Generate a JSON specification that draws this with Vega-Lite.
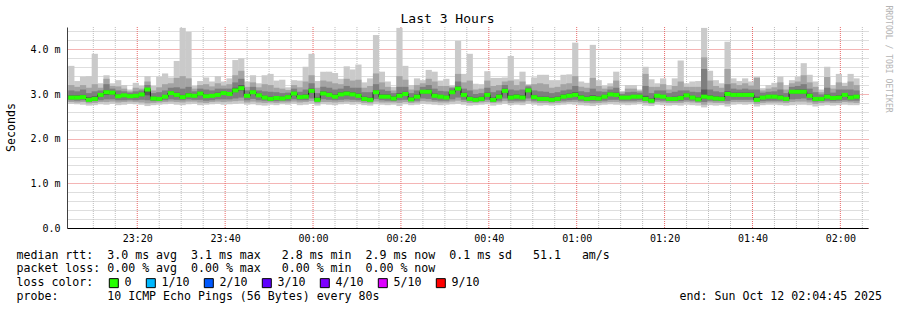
{
"$schema": "https://vega.github.io/schema/vega-lite/v6.json",
"width": 801, "height": 201,
"autosize": {"type": "none"},
"padding": {"left": 67, "top": 27, "right": 29, "bottom": 82},
"background": "white",
"config": {"view": {"stroke": null}, "axis": {"grid": false}},
"title": {"text": "Last 3 Hours", "font": "DejaVu Sans Mono", "fontSize": 13, "fontWeight": "normal", "color": "black", "anchor": "middle", "frame": "group", "dx": -20, "dy": 34, "offset": 3, "baseline": "alphabetic"},
"datasets": {"pings": [
{"t":"2025-10-11T23:05:00","p1":2.78,"p2":2.82,"p3":2.86,"p4":2.89,"p7":2.97,"p8":3.08,"p9":3.2,"p10":3.63,"med":2.92},
{"t":"2025-10-11T23:06:20","p1":2.77,"p2":2.81,"p3":2.85,"p4":2.89,"p7":2.97,"p8":3.06,"p9":3.16,"p10":3.29,"med":2.92},
{"t":"2025-10-11T23:07:40","p1":2.76,"p2":2.82,"p3":2.86,"p4":2.9,"p7":2.98,"p8":3.1,"p9":3.2,"p10":3.39,"med":2.93},
{"t":"2025-10-11T23:09:00","p1":2.74,"p2":2.79,"p3":2.83,"p4":2.85,"p7":2.93,"p8":3.02,"p9":3.14,"p10":3.4,"med":2.87},
{"t":"2025-10-11T23:10:20","p1":2.75,"p2":2.8,"p3":2.84,"p4":2.86,"p7":2.95,"p8":3.06,"p9":3.22,"p10":3.9,"med":2.89},
{"t":"2025-10-11T23:11:40","p1":2.77,"p2":2.82,"p3":2.86,"p4":2.94,"p7":3.02,"p8":3.08,"p9":3.14,"p10":3.24,"med":2.98},
{"t":"2025-10-11T23:13:00","p1":2.76,"p2":2.82,"p3":2.88,"p4":2.98,"p7":3.08,"p8":3.22,"p9":3.34,"p10":3.42,"med":3.04},
{"t":"2025-10-11T23:14:20","p1":2.78,"p2":2.83,"p3":2.88,"p4":2.99,"p7":3.06,"p8":3.12,"p9":3.18,"p10":3.24,"med":3.03},
{"t":"2025-10-11T23:15:40","p1":2.75,"p2":2.81,"p3":2.86,"p4":2.92,"p7":2.99,"p8":3.08,"p9":3.17,"p10":3.31,"med":2.95},
{"t":"2025-10-11T23:17:00","p1":2.76,"p2":2.82,"p3":2.86,"p4":2.93,"p7":3.0,"p8":3.06,"p9":3.12,"p10":3.2,"med":2.97},
{"t":"2025-10-11T23:18:20","p1":2.78,"p2":2.83,"p3":2.87,"p4":2.92,"p7":2.98,"p8":3.03,"p9":3.06,"p10":3.1,"med":2.95},
{"t":"2025-10-11T23:19:40","p1":2.77,"p2":2.82,"p3":2.86,"p4":2.92,"p7":3.0,"p8":3.06,"p9":3.14,"p10":3.25,"med":2.96},
{"t":"2025-10-11T23:21:00","p1":2.76,"p2":2.81,"p3":2.87,"p4":2.95,"p7":3.02,"p8":3.08,"p9":3.12,"p10":3.18,"med":2.99},
{"t":"2025-10-11T23:22:20","p1":2.73,"p2":2.79,"p3":2.86,"p4":2.97,"p7":3.13,"p8":3.2,"p9":3.28,"p10":3.4,"med":3.1},
{"t":"2025-10-11T23:23:40","p1":2.75,"p2":2.8,"p3":2.84,"p4":2.87,"p7":2.94,"p8":3.02,"p9":3.08,"p10":3.18,"med":2.9},
{"t":"2025-10-11T23:25:00","p1":2.76,"p2":2.81,"p3":2.85,"p4":2.87,"p7":2.93,"p8":3.04,"p9":3.15,"p10":3.39,"med":2.89},
{"t":"2025-10-11T23:26:20","p1":2.77,"p2":2.82,"p3":2.86,"p4":2.91,"p7":2.98,"p8":3.08,"p9":3.22,"p10":3.46,"med":2.94},
{"t":"2025-10-11T23:27:40","p1":2.78,"p2":2.83,"p3":2.88,"p4":2.98,"p7":3.06,"p8":3.14,"p9":3.24,"p10":3.37,"med":3.02},
{"t":"2025-10-11T23:29:00","p1":2.76,"p2":2.82,"p3":2.87,"p4":2.94,"p7":3.03,"p8":3.15,"p9":3.36,"p10":3.74,"med":2.98},
{"t":"2025-10-11T23:30:20","p1":2.75,"p2":2.81,"p3":2.86,"p4":2.9,"p7":2.98,"p8":3.12,"p9":3.4,"p10":4.48,"med":2.93},
{"t":"2025-10-11T23:31:40","p1":2.77,"p2":2.83,"p3":2.88,"p4":2.94,"p7":3.02,"p8":3.16,"p9":3.35,"p10":4.39,"med":2.97},
{"t":"2025-10-11T23:33:00","p1":2.78,"p2":2.83,"p3":2.87,"p4":2.93,"p7":3.0,"p8":3.06,"p9":3.12,"p10":3.18,"med":2.96},
{"t":"2025-10-11T23:34:20","p1":2.75,"p2":2.81,"p3":2.87,"p4":2.97,"p7":3.05,"p8":3.12,"p9":3.2,"p10":3.29,"med":3.01},
{"t":"2025-10-11T23:35:40","p1":2.76,"p2":2.8,"p3":2.85,"p4":2.92,"p7":3.0,"p8":3.1,"p9":3.22,"p10":3.37,"med":2.95},
{"t":"2025-10-11T23:37:00","p1":2.77,"p2":2.82,"p3":2.86,"p4":2.93,"p7":3.0,"p8":3.08,"p9":3.17,"p10":3.28,"med":2.96},
{"t":"2025-10-11T23:38:20","p1":2.78,"p2":2.83,"p3":2.88,"p4":2.95,"p7":3.03,"p8":3.12,"p9":3.24,"p10":3.4,"med":2.98},
{"t":"2025-10-11T23:39:40","p1":2.76,"p2":2.82,"p3":2.88,"p4":2.98,"p7":3.06,"p8":3.12,"p9":3.19,"p10":3.28,"med":3.02},
{"t":"2025-10-11T23:41:00","p1":2.77,"p2":2.83,"p3":2.88,"p4":2.97,"p7":3.04,"p8":3.12,"p9":3.22,"p10":3.35,"med":3.0},
{"t":"2025-10-11T23:42:20","p1":2.78,"p2":2.84,"p3":2.9,"p4":3.04,"p7":3.14,"p8":3.26,"p9":3.42,"p10":3.76,"med":3.08},
{"t":"2025-10-11T23:43:40","p1":2.79,"p2":2.85,"p3":2.92,"p4":3.08,"p7":3.2,"p8":3.34,"p9":3.52,"p10":3.8,"med":3.13},
{"t":"2025-10-11T23:45:00","p1":2.76,"p2":2.81,"p3":2.86,"p4":2.93,"p7":3.0,"p8":3.08,"p9":3.16,"p10":3.28,"med":2.96},
{"t":"2025-10-11T23:46:20","p1":2.77,"p2":2.83,"p3":2.89,"p4":3.0,"p7":3.08,"p8":3.16,"p9":3.26,"p10":3.42,"med":3.04},
{"t":"2025-10-11T23:47:40","p1":2.75,"p2":2.81,"p3":2.86,"p4":2.94,"p7":3.01,"p8":3.08,"p9":3.15,"p10":3.24,"med":2.97},
{"t":"2025-10-11T23:49:00","p1":2.74,"p2":2.8,"p3":2.85,"p4":2.89,"p7":2.96,"p8":3.06,"p9":3.22,"p10":3.42,"med":2.92},
{"t":"2025-10-11T23:50:20","p1":2.76,"p2":2.81,"p3":2.84,"p4":2.86,"p7":2.94,"p8":3.05,"p9":3.2,"p10":3.45,"med":2.89},
{"t":"2025-10-11T23:51:40","p1":2.75,"p2":2.8,"p3":2.84,"p4":2.88,"p7":2.95,"p8":3.04,"p9":3.14,"p10":3.3,"med":2.91},
{"t":"2025-10-11T23:53:00","p1":2.77,"p2":2.81,"p3":2.85,"p4":2.87,"p7":2.94,"p8":3.02,"p9":3.12,"p10":3.32,"med":2.9},
{"t":"2025-10-11T23:54:20","p1":2.76,"p2":2.81,"p3":2.85,"p4":2.9,"p7":2.97,"p8":3.03,"p9":3.09,"p10":3.15,"med":2.93},
{"t":"2025-10-11T23:55:40","p1":2.78,"p2":2.83,"p3":2.88,"p4":2.97,"p7":3.05,"p8":3.12,"p9":3.2,"p10":3.31,"med":3.01},
{"t":"2025-10-11T23:57:00","p1":2.75,"p2":2.81,"p3":2.86,"p4":2.9,"p7":2.97,"p8":3.05,"p9":3.15,"p10":3.3,"med":2.93},
{"t":"2025-10-11T23:58:20","p1":2.76,"p2":2.82,"p3":2.86,"p4":2.91,"p7":2.99,"p8":3.1,"p9":3.28,"p10":3.61,"med":2.94},
{"t":"2025-10-11T23:59:40","p1":2.78,"p2":2.84,"p3":2.9,"p4":3.03,"p7":3.12,"p8":3.24,"p9":3.42,"p10":3.9,"med":3.07},
{"t":"2025-10-12T00:01:00","p1":2.74,"p2":2.79,"p3":2.83,"p4":2.85,"p7":2.92,"p8":3.02,"p9":3.14,"p10":3.29,"med":2.87},
{"t":"2025-10-12T00:02:20","p1":2.77,"p2":2.82,"p3":2.88,"p4":2.97,"p7":3.06,"p8":3.16,"p9":3.3,"p10":3.5,"med":3.01},
{"t":"2025-10-12T00:03:40","p1":2.76,"p2":2.82,"p3":2.87,"p4":2.95,"p7":3.03,"p8":3.14,"p9":3.28,"p10":3.5,"med":2.98},
{"t":"2025-10-12T00:05:00","p1":2.75,"p2":2.81,"p3":2.86,"p4":2.91,"p7":2.99,"p8":3.1,"p9":3.24,"p10":3.47,"med":2.94},
{"t":"2025-10-12T00:06:20","p1":2.77,"p2":2.82,"p3":2.87,"p4":2.96,"p7":3.04,"p8":3.12,"p9":3.22,"p10":3.34,"med":2.99},
{"t":"2025-10-12T00:07:40","p1":2.78,"p2":2.83,"p3":2.88,"p4":2.97,"p7":3.06,"p8":3.18,"p9":3.34,"p10":3.62,"med":3.01},
{"t":"2025-10-12T00:09:00","p1":2.76,"p2":2.82,"p3":2.87,"p4":2.96,"p7":3.04,"p8":3.14,"p9":3.3,"p10":3.55,"med":2.99},
{"t":"2025-10-12T00:10:20","p1":2.77,"p2":2.82,"p3":2.86,"p4":2.93,"p7":3.01,"p8":3.14,"p9":3.32,"p10":3.66,"med":2.96},
{"t":"2025-10-12T00:11:40","p1":2.75,"p2":2.8,"p3":2.84,"p4":2.86,"p7":2.94,"p8":3.04,"p9":3.14,"p10":3.26,"med":2.89},
{"t":"2025-10-12T00:13:00","p1":2.74,"p2":2.79,"p3":2.83,"p4":2.85,"p7":2.92,"p8":3.04,"p9":3.18,"p10":3.35,"med":2.87},
{"t":"2025-10-12T00:14:20","p1":2.77,"p2":2.83,"p3":2.89,"p4":3.0,"p7":3.09,"p8":3.22,"p9":3.46,"p10":4.32,"med":3.04},
{"t":"2025-10-12T00:15:40","p1":2.76,"p2":2.81,"p3":2.86,"p4":2.91,"p7":2.99,"p8":3.1,"p9":3.26,"p10":3.5,"med":2.94},
{"t":"2025-10-12T00:17:00","p1":2.75,"p2":2.81,"p3":2.85,"p4":2.91,"p7":2.99,"p8":3.07,"p9":3.16,"p10":3.28,"med":2.94},
{"t":"2025-10-12T00:18:20","p1":2.76,"p2":2.81,"p3":2.84,"p4":2.87,"p7":2.95,"p8":3.02,"p9":3.08,"p10":3.16,"med":2.9},
{"t":"2025-10-12T00:19:40","p1":2.73,"p2":2.8,"p3":2.86,"p4":2.93,"p7":3.02,"p8":3.16,"p9":3.4,"p10":4.48,"med":2.96},
{"t":"2025-10-12T00:21:00","p1":2.77,"p2":2.82,"p3":2.87,"p4":2.96,"p7":3.05,"p8":3.16,"p9":3.32,"p10":3.63,"med":3.0},
{"t":"2025-10-12T00:22:20","p1":2.75,"p2":2.8,"p3":2.84,"p4":2.85,"p7":2.93,"p8":3.02,"p9":3.1,"p10":3.2,"med":2.88},
{"t":"2025-10-12T00:23:40","p1":2.76,"p2":2.81,"p3":2.85,"p4":2.91,"p7":2.99,"p8":3.08,"p9":3.2,"p10":3.35,"med":2.94},
{"t":"2025-10-12T00:25:00","p1":2.78,"p2":2.84,"p3":2.9,"p4":3.01,"p7":3.09,"p8":3.16,"p9":3.24,"p10":3.31,"med":3.05},
{"t":"2025-10-12T00:26:20","p1":2.77,"p2":2.83,"p3":2.89,"p4":3.01,"p7":3.1,"p8":3.2,"p9":3.34,"p10":3.54,"med":3.05},
{"t":"2025-10-12T00:27:40","p1":2.76,"p2":2.82,"p3":2.86,"p4":2.93,"p7":3.01,"p8":3.12,"p9":3.28,"p10":3.5,"med":2.96},
{"t":"2025-10-12T00:29:00","p1":2.75,"p2":2.81,"p3":2.85,"p4":2.91,"p7":2.98,"p8":3.07,"p9":3.18,"p10":3.3,"med":2.94},
{"t":"2025-10-12T00:30:20","p1":2.76,"p2":2.81,"p3":2.85,"p4":2.89,"p7":2.96,"p8":3.06,"p9":3.18,"p10":3.34,"med":2.92},
{"t":"2025-10-12T00:31:40","p1":2.77,"p2":2.83,"p3":2.88,"p4":3.0,"p7":3.08,"p8":3.13,"p9":3.16,"p10":3.19,"med":3.04},
{"t":"2025-10-12T00:33:00","p1":2.78,"p2":2.85,"p3":2.92,"p4":3.08,"p7":3.17,"p8":3.28,"p9":3.45,"p10":4.19,"med":3.12},
{"t":"2025-10-12T00:34:20","p1":2.76,"p2":2.82,"p3":2.87,"p4":2.95,"p7":3.03,"p8":3.12,"p9":3.26,"p10":3.45,"med":2.98},
{"t":"2025-10-12T00:35:40","p1":2.74,"p2":2.8,"p3":2.84,"p4":2.86,"p7":2.94,"p8":3.08,"p9":3.3,"p10":3.9,"med":2.89},
{"t":"2025-10-12T00:37:00","p1":2.75,"p2":2.8,"p3":2.83,"p4":2.85,"p7":2.92,"p8":3.0,"p9":3.1,"p10":3.23,"med":2.87},
{"t":"2025-10-12T00:38:20","p1":2.76,"p2":2.81,"p3":2.84,"p4":2.86,"p7":2.94,"p8":3.02,"p9":3.12,"p10":3.22,"med":2.89},
{"t":"2025-10-12T00:39:40","p1":2.77,"p2":2.82,"p3":2.87,"p4":2.95,"p7":3.03,"p8":3.14,"p9":3.3,"p10":3.51,"med":2.98},
{"t":"2025-10-12T00:41:00","p1":2.74,"p2":2.8,"p3":2.83,"p4":2.84,"p7":2.92,"p8":3.04,"p9":3.18,"p10":3.36,"med":2.87},
{"t":"2025-10-12T00:42:20","p1":2.76,"p2":2.81,"p3":2.85,"p4":2.91,"p7":2.99,"p8":3.08,"p9":3.2,"p10":3.36,"med":2.94},
{"t":"2025-10-12T00:43:40","p1":2.78,"p2":2.84,"p3":2.9,"p4":3.03,"p7":3.12,"p8":3.2,"p9":3.28,"p10":3.37,"med":3.07},
{"t":"2025-10-12T00:45:00","p1":2.75,"p2":2.8,"p3":2.85,"p4":2.89,"p7":2.97,"p8":3.1,"p9":3.3,"p10":3.85,"med":2.92},
{"t":"2025-10-12T00:46:20","p1":2.76,"p2":2.81,"p3":2.85,"p4":2.91,"p7":2.99,"p8":3.08,"p9":3.2,"p10":3.33,"med":2.94},
{"t":"2025-10-12T00:47:40","p1":2.75,"p2":2.81,"p3":2.85,"p4":2.89,"p7":2.97,"p8":3.1,"p9":3.28,"p10":3.5,"med":2.92},
{"t":"2025-10-12T00:49:00","p1":2.78,"p2":2.84,"p3":2.9,"p4":3.04,"p7":3.12,"p8":3.17,"p9":3.2,"p10":3.22,"med":3.08},
{"t":"2025-10-12T00:50:20","p1":2.76,"p2":2.81,"p3":2.85,"p4":2.9,"p7":2.98,"p8":3.08,"p9":3.22,"p10":3.37,"med":2.93},
{"t":"2025-10-12T00:51:40","p1":2.74,"p2":2.8,"p3":2.84,"p4":2.86,"p7":2.94,"p8":3.06,"p9":3.24,"p10":3.43,"med":2.89},
{"t":"2025-10-12T00:53:00","p1":2.75,"p2":2.8,"p3":2.84,"p4":2.86,"p7":2.94,"p8":3.05,"p9":3.22,"p10":3.43,"med":2.89},
{"t":"2025-10-12T00:54:20","p1":2.74,"p2":2.79,"p3":2.83,"p4":2.84,"p7":2.92,"p8":3.02,"p9":3.14,"p10":3.31,"med":2.87},
{"t":"2025-10-12T00:55:40","p1":2.75,"p2":2.8,"p3":2.84,"p4":2.86,"p7":2.94,"p8":3.04,"p9":3.16,"p10":3.31,"med":2.89},
{"t":"2025-10-12T00:57:00","p1":2.76,"p2":2.81,"p3":2.85,"p4":2.91,"p7":2.99,"p8":3.08,"p9":3.22,"p10":3.43,"med":2.94},
{"t":"2025-10-12T00:58:20","p1":2.77,"p2":2.82,"p3":2.86,"p4":2.93,"p7":3.01,"p8":3.1,"p9":3.24,"p10":3.44,"med":2.96},
{"t":"2025-10-12T00:59:40","p1":2.76,"p2":2.82,"p3":2.87,"p4":2.95,"p7":3.04,"p8":3.18,"p9":3.4,"p10":4.15,"med":2.98},
{"t":"2025-10-12T01:01:00","p1":2.75,"p2":2.81,"p3":2.85,"p4":2.89,"p7":2.97,"p8":3.06,"p9":3.16,"p10":3.28,"med":2.92},
{"t":"2025-10-12T01:02:20","p1":2.74,"p2":2.8,"p3":2.84,"p4":2.86,"p7":2.94,"p8":3.04,"p9":3.14,"p10":3.25,"med":2.89},
{"t":"2025-10-12T01:03:40","p1":2.73,"p2":2.79,"p3":2.84,"p4":2.88,"p7":2.97,"p8":3.12,"p9":3.36,"p10":4.1,"med":2.91},
{"t":"2025-10-12T01:05:00","p1":2.75,"p2":2.8,"p3":2.84,"p4":2.87,"p7":2.95,"p8":3.06,"p9":3.18,"p10":3.31,"med":2.9},
{"t":"2025-10-12T01:06:20","p1":2.76,"p2":2.81,"p3":2.85,"p4":2.91,"p7":2.98,"p8":3.05,"p9":3.12,"p10":3.19,"med":2.94},
{"t":"2025-10-12T01:07:40","p1":2.77,"p2":2.82,"p3":2.87,"p4":2.96,"p7":3.03,"p8":3.1,"p9":3.17,"p10":3.24,"med":2.99},
{"t":"2025-10-12T01:09:00","p1":2.76,"p2":2.82,"p3":2.87,"p4":2.95,"p7":3.03,"p8":3.14,"p9":3.3,"p10":3.5,"med":2.98},
{"t":"2025-10-12T01:10:20","p1":2.76,"p2":2.81,"p3":2.85,"p4":2.89,"p7":2.96,"p8":3.0,"p9":3.04,"p10":3.07,"med":2.92},
{"t":"2025-10-12T01:11:40","p1":2.75,"p2":2.81,"p3":2.85,"p4":2.89,"p7":2.96,"p8":3.04,"p9":3.12,"p10":3.2,"med":2.92},
{"t":"2025-10-12T01:13:00","p1":2.76,"p2":2.81,"p3":2.85,"p4":2.91,"p7":2.98,"p8":3.05,"p9":3.12,"p10":3.2,"med":2.94},
{"t":"2025-10-12T01:14:20","p1":2.77,"p2":2.82,"p3":2.86,"p4":2.91,"p7":2.98,"p8":3.03,"p9":3.07,"p10":3.1,"med":2.94},
{"t":"2025-10-12T01:15:40","p1":2.74,"p2":2.8,"p3":2.84,"p4":2.86,"p7":2.96,"p8":3.18,"p9":3.45,"p10":3.61,"med":2.89},
{"t":"2025-10-12T01:17:00","p1":2.73,"p2":2.78,"p3":2.81,"p4":2.82,"p7":2.9,"p8":3.02,"p9":3.16,"p10":3.33,"med":2.85},
{"t":"2025-10-12T01:18:20","p1":2.76,"p2":2.82,"p3":2.86,"p4":2.93,"p7":3.0,"p8":3.08,"p9":3.16,"p10":3.24,"med":2.96},
{"t":"2025-10-12T01:19:40","p1":2.75,"p2":2.81,"p3":2.85,"p4":2.91,"p7":2.98,"p8":3.08,"p9":3.22,"p10":3.35,"med":2.94},
{"t":"2025-10-12T01:21:00","p1":2.74,"p2":2.8,"p3":2.84,"p4":2.86,"p7":2.93,"p8":3.02,"p9":3.1,"p10":3.2,"med":2.89},
{"t":"2025-10-12T01:22:20","p1":2.75,"p2":2.8,"p3":2.84,"p4":2.86,"p7":2.94,"p8":3.05,"p9":3.18,"p10":3.35,"med":2.89},
{"t":"2025-10-12T01:23:40","p1":2.74,"p2":2.8,"p3":2.84,"p4":2.88,"p7":2.96,"p8":3.08,"p9":3.28,"p10":3.75,"med":2.91},
{"t":"2025-10-12T01:25:00","p1":2.76,"p2":2.82,"p3":2.86,"p4":2.94,"p7":3.01,"p8":3.08,"p9":3.16,"p10":3.24,"med":2.97},
{"t":"2025-10-12T01:26:20","p1":2.75,"p2":2.81,"p3":2.85,"p4":2.89,"p7":2.96,"p8":3.05,"p9":3.16,"p10":3.28,"med":2.92},
{"t":"2025-10-12T01:27:40","p1":2.74,"p2":2.8,"p3":2.83,"p4":2.85,"p7":2.93,"p8":3.04,"p9":3.16,"p10":3.29,"med":2.88},
{"t":"2025-10-12T01:29:00","p1":2.7,"p2":2.76,"p3":2.82,"p4":2.9,"p7":3.1,"p8":3.56,"p9":3.82,"p10":4.48,"med":2.94},
{"t":"2025-10-12T01:30:20","p1":2.75,"p2":2.81,"p3":2.85,"p4":2.89,"p7":2.97,"p8":3.1,"p9":3.3,"p10":3.52,"med":2.92},
{"t":"2025-10-12T01:31:40","p1":2.74,"p2":2.8,"p3":2.84,"p4":2.87,"p7":2.95,"p8":3.06,"p9":3.18,"p10":3.31,"med":2.9},
{"t":"2025-10-12T01:33:00","p1":2.75,"p2":2.8,"p3":2.84,"p4":2.86,"p7":2.94,"p8":3.04,"p9":3.14,"p10":3.24,"med":2.89},
{"t":"2025-10-12T01:34:20","p1":2.72,"p2":2.78,"p3":2.84,"p4":2.96,"p7":3.06,"p8":3.22,"p9":3.56,"p10":4.17,"med":3.0},
{"t":"2025-10-12T01:35:40","p1":2.76,"p2":2.82,"p3":2.87,"p4":2.95,"p7":3.03,"p8":3.12,"p9":3.24,"p10":3.35,"med":2.98},
{"t":"2025-10-12T01:37:00","p1":2.77,"p2":2.82,"p3":2.87,"p4":2.95,"p7":3.03,"p8":3.1,"p9":3.2,"p10":3.29,"med":2.98},
{"t":"2025-10-12T01:38:20","p1":2.76,"p2":2.82,"p3":2.87,"p4":2.95,"p7":3.03,"p8":3.12,"p9":3.24,"p10":3.35,"med":2.98},
{"t":"2025-10-12T01:39:40","p1":2.77,"p2":2.82,"p3":2.87,"p4":2.95,"p7":3.03,"p8":3.1,"p9":3.19,"p10":3.28,"med":2.98},
{"t":"2025-10-12T01:41:00","p1":2.72,"p2":2.78,"p3":2.83,"p4":2.85,"p7":2.94,"p8":3.1,"p9":3.36,"p10":3.39,"med":2.87},
{"t":"2025-10-12T01:42:20","p1":2.75,"p2":2.8,"p3":2.84,"p4":2.89,"p7":2.96,"p8":3.03,"p9":3.08,"p10":3.13,"med":2.92},
{"t":"2025-10-12T01:43:40","p1":2.76,"p2":2.81,"p3":2.85,"p4":2.91,"p7":2.98,"p8":3.05,"p9":3.12,"p10":3.2,"med":2.94},
{"t":"2025-10-12T01:45:00","p1":2.76,"p2":2.81,"p3":2.85,"p4":2.91,"p7":2.98,"p8":3.06,"p9":3.15,"p10":3.25,"med":2.94},
{"t":"2025-10-12T01:46:20","p1":2.75,"p2":2.81,"p3":2.85,"p4":2.89,"p7":2.97,"p8":3.1,"p9":3.26,"p10":3.39,"med":2.92},
{"t":"2025-10-12T01:47:40","p1":2.74,"p2":2.8,"p3":2.84,"p4":2.86,"p7":2.93,"p8":3.02,"p9":3.1,"p10":3.2,"med":2.89},
{"t":"2025-10-12T01:49:00","p1":2.75,"p2":2.82,"p3":2.88,"p4":3.01,"p7":3.09,"p8":3.16,"p9":3.24,"p10":3.31,"med":3.05},
{"t":"2025-10-12T01:50:20","p1":2.76,"p2":2.83,"p3":2.89,"p4":3.01,"p7":3.1,"p8":3.18,"p9":3.28,"p10":3.39,"med":3.05},
{"t":"2025-10-12T01:51:40","p1":2.76,"p2":2.83,"p3":2.9,"p4":3.01,"p7":3.1,"p8":3.22,"p9":3.42,"p10":3.69,"med":3.05},
{"t":"2025-10-12T01:53:00","p1":2.75,"p2":2.81,"p3":2.86,"p4":2.93,"p7":3.01,"p8":3.12,"p9":3.26,"p10":3.43,"med":2.96},
{"t":"2025-10-12T01:54:20","p1":2.72,"p2":2.78,"p3":2.83,"p4":2.86,"p7":2.93,"p8":3.04,"p9":3.16,"p10":3.28,"med":2.89},
{"t":"2025-10-12T01:55:40","p1":2.74,"p2":2.8,"p3":2.84,"p4":2.86,"p7":2.93,"p8":2.99,"p9":3.04,"p10":3.1,"med":2.89},
{"t":"2025-10-12T01:57:00","p1":2.75,"p2":2.81,"p3":2.85,"p4":2.91,"p7":2.99,"p8":3.14,"p9":3.38,"p10":3.61,"med":2.94},
{"t":"2025-10-12T01:58:20","p1":2.74,"p2":2.8,"p3":2.84,"p4":2.88,"p7":2.95,"p8":3.03,"p9":3.12,"p10":3.2,"med":2.91},
{"t":"2025-10-12T01:59:40","p1":2.75,"p2":2.8,"p3":2.85,"p4":2.89,"p7":2.97,"p8":3.1,"p9":3.26,"p10":3.45,"med":2.92},
{"t":"2025-10-12T02:01:00","p1":2.76,"p2":2.82,"p3":2.86,"p4":2.95,"p7":3.02,"p8":3.1,"p9":3.18,"p10":3.25,"med":2.98},
{"t":"2025-10-12T02:02:20","p1":2.75,"p2":2.81,"p3":2.85,"p4":2.89,"p7":2.97,"p8":3.1,"p9":3.28,"p10":3.45,"med":2.92},
{"t":"2025-10-12T02:03:40","p1":2.75,"p2":2.8,"p3":2.85,"p4":2.91,"p7":2.98,"p8":3.08,"p9":3.2,"p10":3.35,"med":2.94}
]},
"data": {"name": "pings"},
"resolve": {"axis": {"y": "independent"}},
"encoding": {
  "x": {"field": "t", "type": "temporal",
   "scale": {"domain": [{"year": 2025, "month": 10, "date": 11, "hours": 23, "minutes": 5, "seconds": 9}, {"year": 2025, "month": 10, "date": 12, "hours": 2, "minutes": 5, "seconds": 9}]},
   "axis": {
    "title": ["median rtt:\u00a0\u00a03.0 ms avg\u00a0\u00a03.1 ms max\u00a0\u00a0\u00a02.8 ms min\u00a0\u00a02.9 ms now\u00a0\u00a00.1 ms sd\u00a0\u00a0\u00a051.1\u00a0\u00a0\u00a0am/s",
              "packet loss: 0.00 % avg\u00a0\u00a00.00 % max\u00a0\u00a0\u00a00.00 % min\u00a0\u00a00.00 % now",
              "loss color:",
              "probe:\u00a0\u00a0\u00a0\u00a0\u00a0\u00a0\u00a010 ICMP Echo Pings (56 Bytes) every 80s\u00a0\u00a0\u00a0\u00a0\u00a0\u00a0\u00a0\u00a0\u00a0\u00a0\u00a0\u00a0\u00a0\u00a0\u00a0\u00a0\u00a0\u00a0\u00a0\u00a0\u00a0\u00a0\u00a0\u00a0\u00a0\u00a0\u00a0\u00a0\u00a0\u00a0\u00a0\u00a0\u00a0\u00a0\u00a0\u00a0\u00a0\u00a0\u00a0\u00a0\u00a0\u00a0\u00a0end: Sun Oct 12 02:04:45 2025"],
    "values": [
      {"year": 2025, "month": 10, "date": 11, "hours": 23, "minutes": 20},
      {"year": 2025, "month": 10, "date": 11, "hours": 23, "minutes": 40},
      {"year": 2025, "month": 10, "date": 12, "hours": 0, "minutes": 0},
      {"year": 2025, "month": 10, "date": 12, "hours": 0, "minutes": 20},
      {"year": 2025, "month": 10, "date": 12, "hours": 0, "minutes": 40},
      {"year": 2025, "month": 10, "date": 12, "hours": 1, "minutes": 0},
      {"year": 2025, "month": 10, "date": 12, "hours": 1, "minutes": 20},
      {"year": 2025, "month": 10, "date": 12, "hours": 1, "minutes": 40},
      {"year": 2025, "month": 10, "date": 12, "hours": 2, "minutes": 0}],
    "format": "%H:%M",
    "labelFont": "DejaVu Sans Mono", "labelFontSize": 10, "labelColor": "black", "labelPadding": 5,
    "labelOverlap": false, "labelFlush": false, "labelBound": false,
    "ticks": false, "domainColor": "black", "domainWidth": 1, "grid": false,
    "titleFont": "DejaVu Sans Mono", "titleFontSize": 11.6, "titleFontWeight": "normal", "titleColor": "black",
    "titleAlign": "left", "titleAnchor": "start", "titleBaseline": "alphabetic",
    "titleX": -51, "titleY": 30, "titleLineHeight": 13.7
   }}
},
"layer": [
{"data": {"values": [{"g":"2025-10-11T23:10:00"},{"g":"2025-10-11T23:15:00"},{"g":"2025-10-11T23:25:00"},{"g":"2025-10-11T23:30:00"},{"g":"2025-10-11T23:35:00"},{"g":"2025-10-11T23:45:00"},{"g":"2025-10-11T23:50:00"},{"g":"2025-10-11T23:55:00"},{"g":"2025-10-12T00:05:00"},{"g":"2025-10-12T00:10:00"},{"g":"2025-10-12T00:15:00"},{"g":"2025-10-12T00:25:00"},{"g":"2025-10-12T00:30:00"},{"g":"2025-10-12T00:35:00"},{"g":"2025-10-12T00:45:00"},{"g":"2025-10-12T00:50:00"},{"g":"2025-10-12T00:55:00"},{"g":"2025-10-12T01:05:00"},{"g":"2025-10-12T01:10:00"},{"g":"2025-10-12T01:15:00"},{"g":"2025-10-12T01:25:00"},{"g":"2025-10-12T01:30:00"},{"g":"2025-10-12T01:35:00"},{"g":"2025-10-12T01:45:00"},{"g":"2025-10-12T01:50:00"},{"g":"2025-10-12T01:55:00"},{"g":"2025-10-12T02:05:00"}]},
 "mark": {"type": "rule", "color": "#bdbdbd", "strokeDash": [1, 1], "strokeWidth": 1},
 "encoding": {"x": {"field": "g", "type": "temporal"}}},
{"data": {"values": [{"g":"2025-10-11T23:20:00"},{"g":"2025-10-11T23:40:00"},{"g":"2025-10-12T00:00:00"},{"g":"2025-10-12T00:20:00"},{"g":"2025-10-12T00:40:00"},{"g":"2025-10-12T01:00:00"},{"g":"2025-10-12T01:20:00"},{"g":"2025-10-12T01:40:00"},{"g":"2025-10-12T02:00:00"}]},
 "mark": {"type": "rule", "color": "#e86a6a", "strokeDash": [1, 1], "strokeWidth": 1},
 "encoding": {"x": {"field": "g", "type": "temporal"}}},
{"mark": {"type": "bar", "color": "#cacaca", "width": 6.2, "clip": true},
 "encoding": {
  "y": {"field": "p1", "type": "quantitative", "scale": {"domain": [0, 4.5], "nice": false},
   "axis": {
    "title": "Seconds",
    "values": [0, 1, 2, 3, 4],
    "labelExpr": "datum.value == 0 ? '0.0' : format(datum.value, '.1f') + ' m'",
    "labelFont": "DejaVu Sans Mono", "labelFontSize": 10, "labelColor": "black", "labelPadding": 7,
    "labelOverlap": false, "labelBound": false, "labelFlush": false,
    "ticks": false, "domainColor": "#404040", "domainWidth": 1,
    "grid": true, "gridColor": "#e86a6a", "gridDash": [1, 1], "gridWidth": 1, "gridOpacity": 1,
    "titleFont": "DejaVu Sans Mono", "titleFontSize": 11.6, "titleFontWeight": "normal", "titleColor": "black",
    "titleAngle": -90, "titleX": -56, "titleY": 100, "titleAlign": "center", "titleBaseline": "middle"
   }},
  "y2": {"field": "p10"}
 }},
{"mark": {"type": "bar", "color": "#a4a4a4", "width": 6.2, "clip": true},
 "encoding": {"y": {"field": "p2", "type": "quantitative", "axis": null}, "y2": {"field": "p9"}}},
{"mark": {"type": "bar", "color": "#7e7e7e", "width": 6.2, "clip": true},
 "encoding": {"y": {"field": "p3", "type": "quantitative", "axis": null}, "y2": {"field": "p8"}}},
{"mark": {"type": "bar", "color": "#5a5a5a", "width": 6.2, "clip": true},
 "encoding": {"y": {"field": "p4", "type": "quantitative", "axis": null}, "y2": {"field": "p7"}}},
{"mark": {"type": "line", "interpolate": "step", "color": "#202020", "strokeWidth": 1, "clip": true},
 "encoding": {
  "y": {"field": "med", "type": "quantitative",
   "axis": {"orient": "right", "title": "RRDTOOL / TOBI OETIKER", "labels": false, "ticks": false, "domain": false,
    "values": [0.2, 0.4, 0.6, 0.8, 1.2, 1.4, 1.6, 1.8, 2.2, 2.4, 2.6, 2.8, 3.2, 3.4, 3.6, 3.8, 4.2, 4.4],
    "grid": true, "gridColor": "#bdbdbd", "gridDash": [1, 1], "gridWidth": 1, "gridOpacity": 1,
    "titleFont": "DejaVu Sans Mono", "titleFontSize": 8.1, "titleFontWeight": "normal", "titleColor": "#b4b4b4",
    "titleAngle": 90, "titleX": 19.5, "titleY": -22, "titleAlign": "left", "titleBaseline": "middle"}}}},
{"mark": {"type": "tick", "orient": "horizontal", "size": 6.2, "thickness": 4, "opacity": 1, "clip": true},
 "encoding": {
  "y": {"field": "med", "type": "quantitative", "axis": null},
  "color": {"datum": "0", "type": "nominal",
   "scale": {"domain": ["0", "1/10", "2/10", "3/10", "4/10", "5/10", "9/10"], "range": ["#26ff00", "#00b8ff", "#0059ff", "#5e00ff", "#7e00ff", "#dd00ff", "#ff0000"]},
   "legend": {"orient": "none", "legendX": 41, "legendY": 250, "direction": "horizontal", "title": null,
    "symbolType": "square", "symbolSize": 81, "symbolStrokeColor": "black", "symbolStrokeWidth": 1, "symbolOpacity": 1,
    "labelFont": "DejaVu Sans Mono", "labelFontSize": 11.6, "labelColor": "black", "labelOffset": 5,
    "columnPadding": 12, "padding": 0}}}},
{"data": {"values": [{}]},
 "mark": {"type": "point", "shape": "triangle-up", "filled": true, "size": 30, "color": "#8b0000", "opacity": 1, "clip": false},
 "encoding": {"x": {"datum": {"year": 2025, "month": 10, "date": 11, "hours": 23, "minutes": 5, "seconds": 9}, "type": "temporal"},
  "y": {"datum": 4.57, "type": "quantitative", "axis": null}}},
{"data": {"values": [{}]},
 "mark": {"type": "point", "shape": "triangle-right", "filled": true, "size": 30, "color": "#8b0000", "opacity": 1, "clip": false},
 "encoding": {"x": {"datum": {"year": 2025, "month": 10, "date": 12, "hours": 2, "minutes": 6, "seconds": 3}, "type": "temporal"},
  "y": {"datum": 0, "type": "quantitative", "axis": null}}}
]
}
